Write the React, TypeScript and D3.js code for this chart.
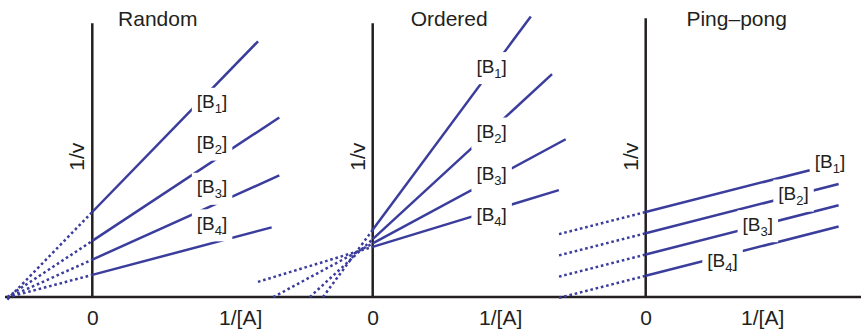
import React, { useRef, useEffect } from "react";
import * as d3 from "d3";

// panel titles and series
const panelTitles = ["Random", "Ordered", "Ping–pong"];
const seriesSubs = ["1", "2", "3", "4"];

// Random: lines in (1/[A], 1/v) units
const randomIntercepts = [1.0, 0.66, 0.44, 0.26];
const randomSlopes = [1.03, 0.66, 0.45, 0.265];
const randomStarts = [-1.0, -1.0, -1.0, -1.0];
const randomEnds = [1.95, 2.2, 2.2, 2.11];

// Ordered
const orderedIntercepts = [0.79, 0.68, 0.63, 0.59];
const orderedSlopes = [1.35, 0.92, 0.54, 0.305];
const orderedStarts = [-0.585, -0.74, -1.17, -1.35];
const orderedEnds = [1.86, 2.11, 2.27, 2.19];

// Ping-pong
const pingIntercepts = [1.0, 0.75, 0.5, 0.25];
const pingSlopes = [0.255, 0.255, 0.255, 0.255];
const pingStarts = [-1.02, -1.02, -1.02, -1.02];
const pingEnds = [1.93, 2.27, 2.27, 2.27];

const W = 861;
const H = 331;
const BLUE = "#3b3d9c";
const INK = "#231f20";
const FONT = "'Liberation Sans', Arial, Helvetica, sans-serif";

function App() {
  const svgRef = useRef(null);

  useEffect(() => {
    const svg = d3.select(svgRef.current);
    svg.selectAll("*").remove();

    const unit = 85;
    const baseY = 297;
    const y = d3.scaleLinear().domain([0, 1]).range([baseY, baseY - unit]);

    const panels = [
      {
        intercepts: randomIntercepts, slopes: randomSlopes, starts: randomStarts, ends: randomEnds,
        axisX: 92.3, axisTop: 3.22, titleX: 0.77, aX: 1.74,
        labelX: [1.23, 1.23, 1.23, 1.23], labelY: [2.22, 1.74, 1.22, 0.79],
      },
      {
        intercepts: orderedIntercepts, slopes: orderedSlopes, starts: orderedStarts, ends: orderedEnds,
        axisX: 372.7, axisTop: 3.22, titleX: 0.9, aX: 1.5,
        labelX: [1.22, 1.22, 1.22, 1.22], labelY: [2.64, 1.87, 1.38, 0.89],
      },
      {
        intercepts: pingIntercepts, slopes: pingSlopes, starts: pingStarts, ends: pingEnds,
        axisX: 645.7, axisTop: 3.28, titleX: 1.07, aX: 1.37,
        labelX: [1.99, 1.56, 1.14, 0.725], labelY: [1.52, 1.14, 0.78, 0.35],
      },
    ];

    // shared x axis line
    svg.append("line")
      .attr("x1", 5).attr("x2", W)
      .attr("y1", baseY).attr("y2", baseY)
      .attr("stroke", INK).attr("stroke-width", 2.5);

    panels.forEach((p, pi) => {
      const x = d3.scaleLinear().domain([0, 1]).range([p.axisX, p.axisX + unit]);
      const g = svg.append("g");

      // y axis
      g.append("line")
        .attr("x1", x(0)).attr("x2", x(0))
        .attr("y1", y(0)).attr("y2", y(p.axisTop))
        .attr("stroke", INK).attr("stroke-width", 2.5);

      const lineGen = d3.line().x((d) => x(d[0])).y((d) => y(d[1]));

      p.intercepts.forEach((b, i) => {
        const m = p.slopes[i];
        const pt = (t) => [t, b + m * t];
        g.append("path")
          .attr("d", lineGen([pt(p.starts[i]), pt(0)]))
          .attr("fill", "none").attr("stroke", BLUE)
          .attr("stroke-width", 2.5).attr("stroke-dasharray", "2.6 2.8");
        g.append("path")
          .attr("d", lineGen([pt(0), pt(p.ends[i])]))
          .attr("fill", "none").attr("stroke", BLUE)
          .attr("stroke-width", 2.5);
      });

      // series labels with white background
      seriesSubs.forEach((s, i) => {
        const lg = g.append("g");
        const rect = lg.append("rect").attr("fill", "white");
        const t = lg.append("text")
          .attr("x", x(p.labelX[i])).attr("y", y(p.labelY[i]))
          .attr("font-family", FONT).attr("font-size", 19).attr("fill", INK);
        t.append("tspan").text("[B");
        t.append("tspan").attr("font-size", 13).attr("dy", 5).text(s);
        t.append("tspan").attr("dy", -5).text("]");
        const bb = t.node().getBBox();
        rect.attr("x", bb.x - 5).attr("y", bb.y - 3.5)
          .attr("width", bb.width + 10).attr("height", bb.height + 7);
      });

      // tick labels
      const ax = d3.axisBottom(x)
        .tickValues([0, p.aX])
        .tickFormat((d) => (d === 0 ? "0" : "1/[A]"))
        .tickSize(0)
        .tickPadding(13);
      const axg = g.append("g").attr("transform", `translate(0,${baseY})`).call(ax);
      axg.select(".domain").remove();
      axg.attr("font-size", 21).attr("font-family", FONT);
      axg.selectAll("text").attr("fill", INK);

      // title
      g.append("text")
        .attr("x", x(p.titleX)).attr("y", 26)
        .attr("text-anchor", "middle")
        .attr("font-family", FONT).attr("font-size", 21).attr("fill", INK)
        .text(panelTitles[pi]);

      // y label
      g.append("text")
        .attr("transform", `translate(${x(0) - 8},${y(1.65)}) rotate(-90)`)
        .attr("text-anchor", "middle")
        .attr("font-family", FONT).attr("font-size", 21).attr("fill", INK)
        .text("1/v");
    });
  }, []);

  return (
    <svg
      ref={svgRef}
      width={W}
      height={H}
      style={{ position: "absolute", left: 0, top: 0, background: "white" }}
    />
  );
}

export default App;
